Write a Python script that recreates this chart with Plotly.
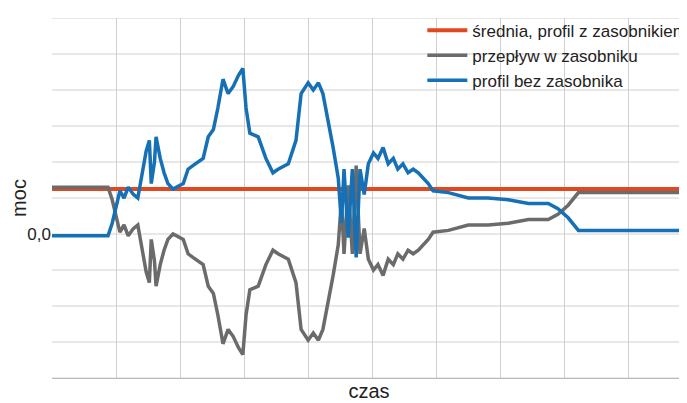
import plotly.graph_objects as go

t = [0, 8.75, 9.4, 10, 10.6, 11.25, 11.9, 12.7, 13.4, 14.2, 14.7, 15.2, 15.5, 16, 16.25, 16.9, 17.5, 18.1, 18.9, 20.5,
     21.25, 22, 23.6, 24.4, 25.2, 25.9, 26.7, 27.5, 28.3, 29.1, 29.8, 30.3, 30.9, 32.2, 33.4, 34.5, 35.3, 36.9, 38.1,
     38.9, 40, 40.8, 41.6, 42.3, 43.1, 43.9, 44.7, 45.2, 45.6, 46.25, 46.9, 47.5, 48.1, 48.75, 49.4, 50.2, 50.9, 51.7,
     52.5, 53.3, 54, 54.8, 55.6, 56.4, 57.2, 57.9, 58.75, 59.5, 61.9, 65, 68.1, 71.25, 74.4, 77.5, 79, 80.6, 82.2, 87, 99]
profil = [-0.05, -0.05, 0.3, 0.8, 1.2, 1.0, 1.3, 1.1, 1.0, 1.8, 2.3, 2.6, 1.4, 2.0, 2.7, 2.1, 1.7, 1.4, 1.25, 1.4,
          1.8, 1.9, 2.1, 2.7, 2.9, 3.5, 4.3, 3.9, 4.1, 4.4, 4.6, 3.5, 2.8, 2.7, 2.1, 1.7, 1.8, 1.95, 2.6,
          3.9, 4.2, 4.0, 4.2, 3.9, 3.2, 2.4, 1.55, 0.3, 1.8, -0.1, 1.8, -0.65, 1.8, 1.1, 1.95, 2.25, 2.1, 2.4,
          1.95, 2.1, 1.8, 1.95, 1.7, 1.8, 1.7, 1.55, 1.4, 1.2, 1.15, 1.0, 1.0, 0.95, 0.85, 0.85, 0.7, 0.45, 0.1, 0.1, 0.1]
srednia = 1.25
przeplyw = [srednia - v for v in profil]

fig = go.Figure()
fig.add_trace(go.Scatter(x=[t[0], t[-1]], y=[srednia, srednia], mode="lines",
                         line=dict(color="#E0481F", width=4), name="średnia, profil z zasobnikiem"))
fig.add_trace(go.Scatter(x=t, y=przeplyw, mode="lines", line=dict(color="#6b6b6b", width=3.5),
                         name="przepływ w zasobniku"))
fig.add_trace(go.Scatter(x=t, y=profil, mode="lines", line=dict(color="#1570b5", width=3.5),
                         name="profil bez zasobnika"))

fig.update_layout(
    width=687, height=403, margin=dict(l=44, r=9, t=10, b=33, autoexpand=False),
    paper_bgcolor="white", plot_bgcolor="white",
    font=dict(family="Liberation Sans, Arial", size=17, color="#222"),
    showlegend=True,
    legend=dict(x=1.01, y=1.015, xanchor="right", yanchor="top", bgcolor="rgba(255,255,255,0)",
                font=dict(size=17), tracegroupgap=0, itemwidth=40),
)
fig.update_xaxes(range=[0, 99], tickvals=list(range(0, 100, 10)), showticklabels=False, automargin=False,
                 showgrid=True, gridcolor="#d0d0d0", zeroline=False, showline=True, linecolor="#bbb", mirror=False,
                 title=dict(text="czas", standoff=5))
fig.update_yaxes(range=[-4, 6], tickvals=[0], ticktext=["0,0"], showgrid=False, zeroline=False, automargin=False,
                 showline=False, ticklen=0, title=dict(text="moc", standoff=0))
for k in range(-4, 7):
    fig.add_shape(type="line", xref="paper", x0=0, x1=1, yref="y", y0=k, y1=k,
                  line=dict(color="#d0d0d0", width=1), layer="below")

fig.write_html("out.html")
